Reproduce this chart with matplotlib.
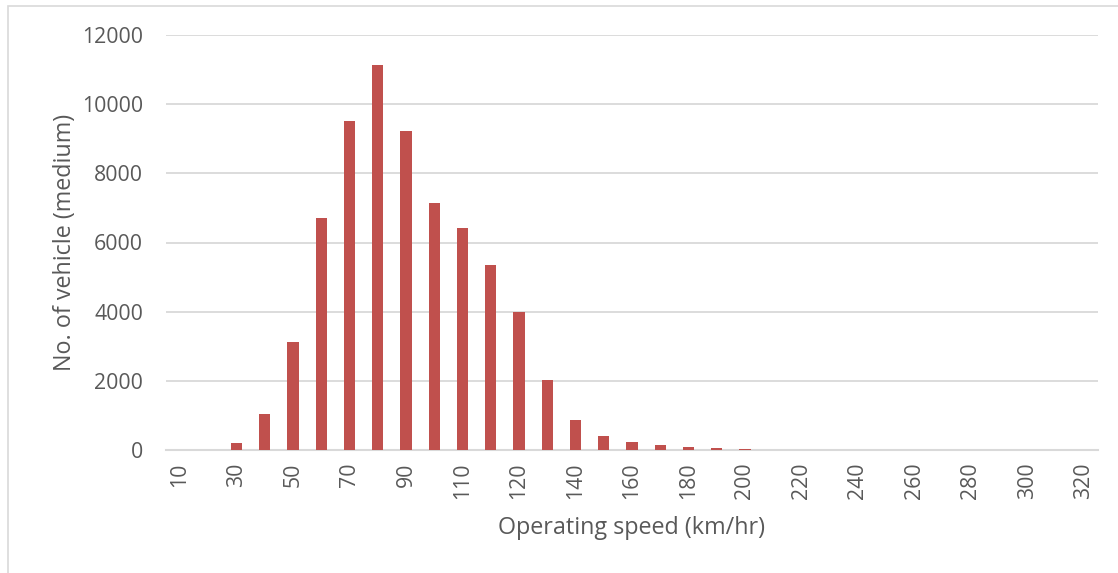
import matplotlib
matplotlib.use("Agg")
import matplotlib.pyplot as plt
from matplotlib.patches import Rectangle

# Speed bins (km/hr) and vehicle counts for medium vehicles
speed_bins = ["10", "20", "30", "40", "50", "60", "70", "80", "90", "100",
              "110", "115", "120", "130", "140", "150", "160", "170", "180",
              "190", "200", "210", "220", "230", "240", "250", "260", "270",
              "280", "290", "300", "310", "320"]
vehicle_counts = [0, 0, 190, 1050, 3110, 6700, 9520, 11140, 9230, 7130,
                  6430, 5350, 3980, 2010, 870, 400, 235, 150, 90,
                  70, 30, 0, 0, 0, 0, 0, 0, 0,
                  0, 0, 0, 0, 0]
y_ticks = [0, 2000, 4000, 6000, 8000, 10000, 12000]

plt.rcParams["font.family"] = ["Open Sans", "DejaVu Sans"]
text_color = "#595959"
grid_color = "#D9D9D9"
bar_color = "#C0504D"

W, H = 1118, 573
fig = plt.figure(figsize=(W / 100, H / 100), dpi=100)
ax = fig.add_axes([166 / W, 1 - 450 / H, (1098 - 166) / W, (450 - 35) / H])

x = list(range(len(speed_bins)))
ax.bar(x, vehicle_counts, width=0.4, color=bar_color, zorder=3)

ax.set_xlim(-0.5, len(speed_bins) - 0.5)
ax.set_ylim(0, 12000)
ax.set_yticks(y_ticks)
ax.set_yticklabels([str(v) for v in y_ticks])
shown = [i for i in x if i % 2 == 0]
ax.set_xticks(shown)
ax.set_xticklabels([speed_bins[i] for i in shown], rotation=90)

ax.yaxis.grid(True, color=grid_color, linewidth=1.3, zorder=0)
ax.set_axisbelow(True)
for side in ("top", "right", "left"):
    ax.spines[side].set_visible(False)
ax.spines["bottom"].set_color(grid_color)
ax.spines["bottom"].set_linewidth(1.5)
ax.tick_params(axis="both", length=0, labelsize=15.3, labelcolor=text_color)
ax.tick_params(axis="y", pad=16.5)
ax.tick_params(axis="x", pad=9)

# Axis titles
fig.text(631 / W, 1 - 528 / H, "Operating speed (km/hr)", fontsize=16.8,
         color=text_color, ha="center", va="center")
fig.text(65 / W, 1 - 242 / H, "No. of vehicle (medium)", fontsize=16.8,
         color=text_color, ha="center", va="center", rotation=90)

# Chart frame
fig.patches.append(Rectangle((8 / W, -0.1), 1.2, 1 - 6 / H + 0.1,
                             transform=fig.transFigure, fill=False,
                             edgecolor="#D9D9D9", linewidth=1.2))

fig.savefig("out.png", dpi=100, facecolor="white")
